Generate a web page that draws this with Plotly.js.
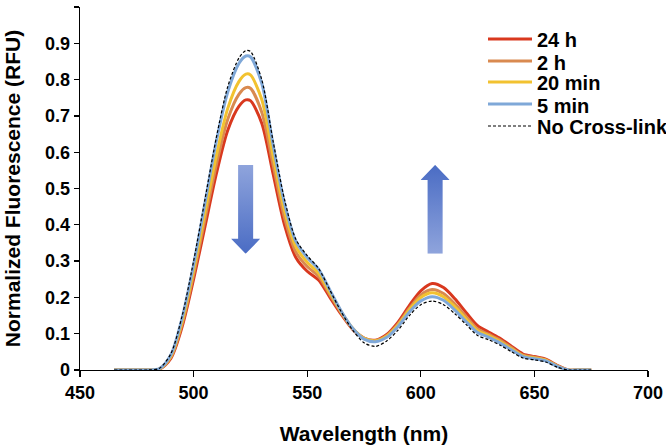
<!DOCTYPE html>
<html>
<head>
<meta charset="utf-8">
<script src="https://cdn.plot.ly/plotly-3.0.1.min.js"></script>
<style>
  html, body { margin: 0; padding: 0; background: #ffffff; }
  #chart { width: 666px; height: 447px; }
</style>
</head>
<body>
<div id="chart"></div>
<script>
// Wavelength (nm)
const wavelength = [465,470,475,480,485,490,495,500,505,510,515,520,523,525,530,535,540,545,550,555,560,565,570,575,580,585,590,595,600,605,610,615,620,625,630,635,640,645,650,655,660,665,670,675];

// Normalized fluorescence (RFU) per series
const h24 = [0,0,0,0,0.002,0.032,0.12,0.25,0.395,0.54,0.66,0.727,0.744,0.742,0.68,0.54,0.40,0.31,0.272,0.248,0.2,0.153,0.112,0.088,0.082,0.098,0.132,0.178,0.218,0.238,0.227,0.196,0.158,0.122,0.104,0.087,0.065,0.044,0.037,0.03,0.013,0,0,0];
const h2 = [0,0,0,0,0.003,0.035,0.128,0.263,0.415,0.565,0.69,0.76,0.778,0.776,0.71,0.565,0.42,0.325,0.285,0.258,0.207,0.157,0.114,0.088,0.081,0.095,0.127,0.17,0.207,0.222,0.211,0.182,0.147,0.113,0.098,0.082,0.061,0.041,0.035,0.028,0.012,0,0,0];
const min20 = [0,0,0,0,0.003,0.038,0.135,0.275,0.435,0.59,0.72,0.795,0.815,0.813,0.745,0.59,0.44,0.34,0.297,0.267,0.213,0.16,0.115,0.087,0.08,0.093,0.124,0.166,0.2,0.213,0.202,0.174,0.14,0.108,0.094,0.078,0.058,0.039,0.033,0.027,0.011,0,0,0];
const min5 = [0,0,0,0,0.004,0.042,0.145,0.29,0.46,0.63,0.765,0.845,0.865,0.863,0.79,0.62,0.46,0.355,0.31,0.278,0.22,0.162,0.115,0.085,0.078,0.09,0.12,0.16,0.19,0.202,0.192,0.165,0.133,0.103,0.09,0.074,0.055,0.037,0.031,0.025,0.01,0,0,0];
const noCross = [0,0,0,0,0.005,0.045,0.15,0.30,0.47,0.64,0.78,0.86,0.88,0.878,0.80,0.63,0.47,0.36,0.315,0.28,0.22,0.16,0.11,0.075,0.065,0.08,0.11,0.15,0.18,0.19,0.18,0.155,0.125,0.095,0.083,0.068,0.05,0.033,0.028,0.022,0.008,0,0,0];

const seriesNames = ['24 h', '2 h', '20 min', '5 min', 'No Cross-link'];
const seriesValues = [h24, h2, min20, min5, noCross];
const seriesColors = ['#D9381E', '#D98A50', '#F2C230', '#7FA8D8', '#000000'];

// Axis ticks
const xTicks = [450, 500, 550, 600, 650, 700];
const yTicks = [0, 0.1, 0.2, 0.3, 0.4, 0.5, 0.6, 0.7, 0.8, 0.9, 1];

const FONT = '"Liberation Sans", Arial, sans-serif';
const W = 666, H = 447;
const M = { l: 80, r: 18, t: 7, b: 77 };
const PW = W - M.l - M.r, PH = H - M.t - M.b;
const px2paperX = px => (px - M.l) / PW;
const px2paperY = py => (H - M.b - py) / PH;

function lineStyle(i) {
  const dashed = i === 4;
  return {
    color: seriesColors[i],
    width: dashed ? 1.2 : 3,
    dash: dashed ? '3px,2px' : 'solid'
  };
}

const traces = seriesValues.map((vals, i) => ({
  type: 'scatter',
  mode: 'lines',
  name: seriesNames[i],
  x: wavelength,
  y: vals,
  showlegend: false,
  line: Object.assign(lineStyle(i), { shape: 'spline', smoothing: 0.8 }),
  hoverinfo: 'x+y+name'
}));

// Hand-placed legend (tight row spacing as in the original)
const legendRowsPx = [39, 61, 82, 104, 126];
const legendShapes = seriesNames.map((n, i) => ({
  type: 'line', xref: 'paper', yref: 'paper',
  x0: px2paperX(488), x1: px2paperX(532),
  y0: px2paperY(legendRowsPx[i]), y1: px2paperY(legendRowsPx[i]),
  line: lineStyle(i)
}));
const legendTexts = seriesNames.map((n, i) => ({
  text: n, xref: 'paper', yref: 'paper',
  x: px2paperX(535), y: px2paperY(legendRowsPx[i] + 1.5),
  xanchor: 'left', yanchor: 'middle', showarrow: false,
  font: { family: FONT, size: 20, color: '#000000', weight: 700 }
}));

function arrowSVG(down) {
  const light = '#8FA4DC', dark = '#4A6CC4';
  const c1 = down ? light : dark, c2 = down ? dark : light;
  const path = down ? 'M7,0H22V74H29L14.5,89L0,74H7Z' : 'M14.5,0L29,15H22V89H7V15H0Z';
  const svg = "<svg xmlns='http://www.w3.org/2000/svg' width='29' height='89' viewBox='0 0 29 89' preserveAspectRatio='none'>" +
    "<defs><linearGradient id='g' x1='0' y1='0' x2='0' y2='1'><stop offset='0' stop-color='" + c1 + "'/><stop offset='1' stop-color='" + c2 + "'/></linearGradient></defs>" +
    "<path d='" + path + "' fill='url(#g)'/></svg>";
  return 'data:image/svg+xml;charset=utf-8,' + encodeURIComponent(svg);
}

const layout = {
  width: W,
  height: H,
  margin: M,
  paper_bgcolor: '#ffffff',
  plot_bgcolor: '#ffffff',
  font: { family: FONT, size: 18, color: '#000000', weight: 700 },
  showlegend: false,
  xaxis: {
    range: [450, 700],
    tickmode: 'array',
    tickvals: xTicks,
    ticktext: xTicks.map(String),
    ticks: 'outside', ticklen: 6, tickwidth: 1.3, tickcolor: '#000000',
    showline: true, linecolor: '#000000', linewidth: 1.3,
    showgrid: false, zeroline: false,
    tickfont: { family: FONT, size: 18, color: '#000000', weight: 700 },
    title: { text: 'Wavelength (nm)', font: { family: FONT, size: 21, color: '#000000', weight: 700 }, standoff: 24 }
  },
  yaxis: {
    range: [0, 1],
    tickmode: 'array',
    tickvals: yTicks,
    ticktext: yTicks.map(String),
    ticks: 'outside', ticklen: 5, tickwidth: 1.3, tickcolor: '#000000',
    showline: true, linecolor: '#000000', linewidth: 1.3,
    showgrid: false, zeroline: false,
    tickfont: { family: FONT, size: 18, color: '#000000', weight: 700 },
    title: { text: 'Normalized Fluorescence (RFU)', font: { family: FONT, size: 21, color: '#000000', weight: 700 }, standoff: 18 }
  },
  shapes: legendShapes,
  annotations: legendTexts,
  images: [
    { source: arrowSVG(true), xref: 'x', yref: 'y', x: 516.5, y: 0.565, sizex: 12.8, sizey: 0.245, sizing: 'stretch', xanchor: 'left', yanchor: 'top', layer: 'above' },
    { source: arrowSVG(false), xref: 'x', yref: 'y', x: 599.9, y: 0.565, sizex: 12.8, sizey: 0.245, sizing: 'stretch', xanchor: 'left', yanchor: 'top', layer: 'above' }
  ]
};

Plotly.newPlot('chart', traces, layout, { displayModeBar: false, staticPlot: true });
</script>
</body>
</html>
